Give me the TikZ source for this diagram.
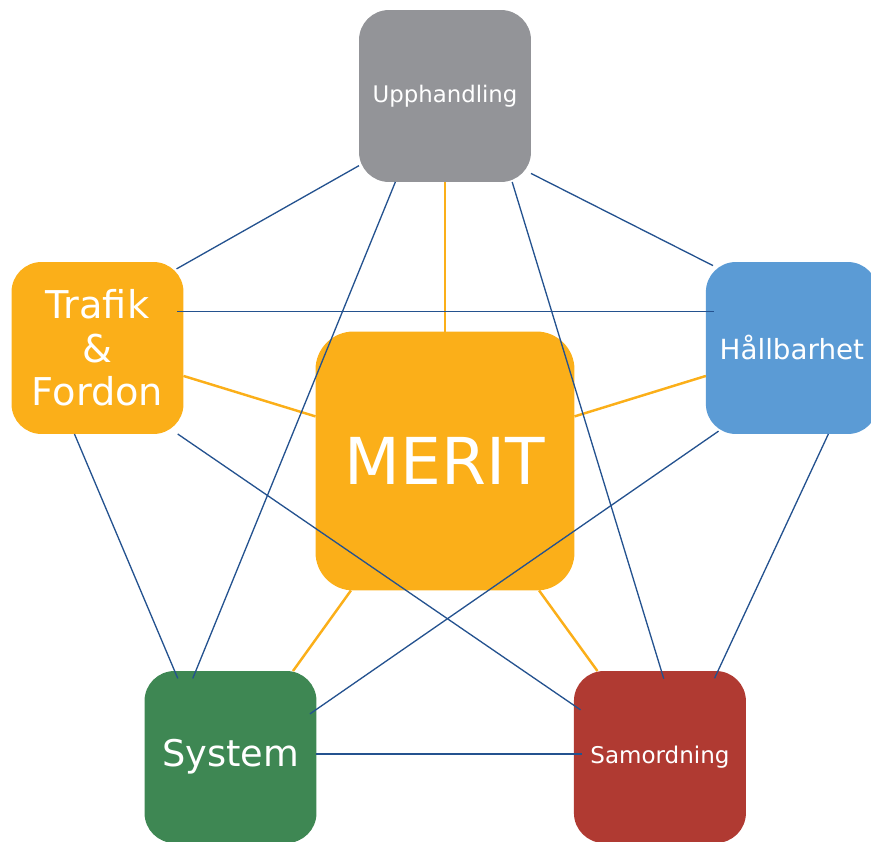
\documentclass[tikz,border=0pt]{standalone}
\usepackage{fontspec}
\setmainfont{DejaVu Sans}
\usetikzlibrary{positioning}
\definecolor{linkblue}{HTML}{24528F}
\definecolor{meritorange}{HTML}{FBAF19}
\definecolor{uppgray}{HTML}{939498}
\definecolor{hallblue}{HTML}{5B9BD5}
\definecolor{sysgreen}{HTML}{3E8753}
\definecolor{samred}{HTML}{B03A32}
\tikzset{%
  % Specifications for style of nodes:
            box/.style = {rectangle, rounded corners=0.6cm, outer sep=0pt,
                            inner sep=0pt, minimum width=3.44cm, minimum
                            height=3.44cm, text=white, align=center},
            hub/.style = {box, rounded corners=0.76cm, fill=meritorange,
                            minimum width=5.18cm, minimum height=5.18cm},
  % Specifications for style of lines:
            link/.style = {draw=linkblue, line width=0.75pt, shorten >=-0.16cm},
            spoke/.style = {draw=meritorange, line width=1.4pt}
}

\begin{document}
\begin{tikzpicture}[x=0.02cm, y=-0.02cm, node distance=1cm]
                \useasboundingbox (0,0) rectangle (871,841);

                \node[hub, font=\fontsize{36.8}{40}\selectfont] (merit) at (445,461) {MERIT};
                \node[box, fill=uppgray, font=\fontsize{13}{15}\selectfont] (upp) at (445,96) {Upphandling};
                \node[box, fill=meritorange, font=\fontsize{21.8}{24.7}\selectfont] (traf) at (97.5,348) {Trafik\\\&\\Fordon};
                \node[box, fill=hallblue, right of=traf, node distance=13.89cm,
                      font=\fontsize{15.8}{18}\selectfont] (hall) {Hållbarhet};
                \node[box, fill=sysgreen, font=\fontsize{20.9}{24}\selectfont] (sys) at (230.5,757) {System};
                \node[box, fill=samred, right of=sys, node distance=8.59cm,
                      font=\fontsize{13.1}{15}\selectfont] (sam) {Samordning};

                % spokes from the hub
                \draw[spoke] (merit.north) -- (upp.south);
                \draw[spoke] (traf.342) -- (merit.161);
                \draw[spoke] (hall.198) -- (merit.19);
                \draw[spoke] (sys.54) -- (merit.234);
                \draw[spoke] (sam.126) -- (merit.306);

                % links between the outer boxes
                \draw[link] (upp.219) -- (traf.44);
                \draw[link] (upp.318) -- (hall.135);
                \draw[link] (upp.240) -- (sys.112);
                \draw[link] (upp.308) -- (sam.89);
                \draw[link, shorten <=-0.12cm] (traf.23) -- (hall.157);
                \draw[link] (traf.255) -- (sys.123);
                \draw[link] (traf.313) -- (sam.149);
                \draw[link, shorten <=-0.1cm] (hall.228) -- (sys.29);
                \draw[link] (hall.293) -- (sam.56);
                \draw[link] (sys.2) -- (sam.178);

            \end{tikzpicture}
\end{document}
